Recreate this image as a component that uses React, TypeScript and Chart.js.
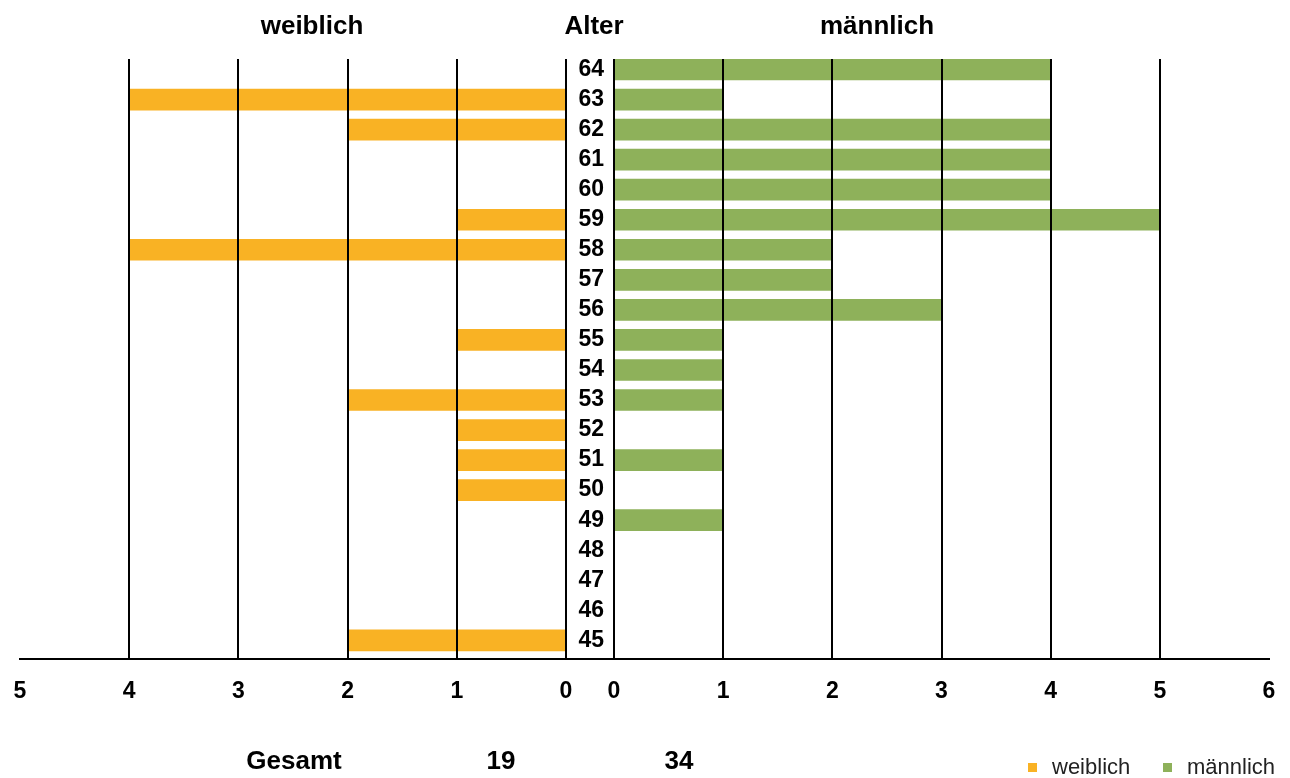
import { useEffect, useRef } from "react";
import { Chart, registerables } from "chart.js";

Chart.register(...registerables);

// Altersverteilung nach Geschlecht
const ages = [64, 63, 62, 61, 60, 59, 58, 57, 56, 55, 54, 53, 52, 51, 50, 49, 48, 47, 46, 45];
const weiblich = [0, 4, 2, 0, 0, 1, 4, 0, 0, 1, 0, 2, 1, 1, 1, 0, 0, 0, 0, 2];
const maennlich = [4, 1, 4, 4, 4, 5, 2, 2, 3, 1, 1, 1, 0, 1, 0, 1, 0, 0, 0, 0];
const weiblichTicks = [0, 1, 2, 3, 4, 5];
const maennlichTicks = [0, 1, 2, 3, 4, 5, 6];

const ORANGE = "#F9B224";
const GREEN = "#8EB15A";
const FONT = "'Liberation Sans', Arial, Helvetica, sans-serif";

const W = 1290;
const H = 778;
const PLOT_TOP = 59;
const PLOT_BOTTOM = 659;
const LEFT_CANVAS_W = 580;
const LEFT_PLOT_LEFT = 20;
const LEFT_PLOT_RIGHT = 566;
const RIGHT_CANVAS_X = 566;
const RIGHT_PLOT_RIGHT = 1269;
const AGE_GAP = 48;
const Y_MIN = 44.38;
const Y_MAX = 64.35;

const sum = (a: number[]) => a.reduce((s, v) => s + v, 0);

const tickFont = { size: 23, weight: "bold" as const, family: FONT };

function gridColor(hidden: number) {
  return (ctx: any) => (ctx.tick && ctx.tick.value === hidden ? "rgba(0,0,0,0)" : "#000");
}

function xScale(ticks: number[], max: number, reverse: boolean) {
  return {
    type: "linear" as const,
    position: "bottom" as const,
    reverse,
    min: 0,
    max,
    afterBuildTicks: (s: any) => {
      s.ticks = ticks.map((v) => ({ value: v }));
    },
    afterFit: (s: any) => {
      s.height = H - PLOT_BOTTOM;
      // the layout padding already leaves room for the end labels
      s.paddingLeft = 0;
      s.paddingRight = 0;
    },
    grid: { z: 1, color: gridColor(max), lineWidth: 2, drawTicks: false },
    border: { display: true, color: "#000", width: 2, z: 1 },
    ticks: { font: tickFont, color: "#000", padding: 19, maxRotation: 0, autoSkip: false },
  };
}

// draws the baseline across the gap holding the age labels
const gapBaseline = {
  id: "gapBaseline",
  afterDraw(chart: any) {
    const { ctx } = chart;
    const y = chart.scales.x.top;
    ctx.save();
    ctx.strokeStyle = "#000";
    ctx.lineWidth = 2;
    ctx.beginPath();
    ctx.moveTo(0, y);
    ctx.lineTo(chart.chartArea.left, y);
    ctx.stroke();
    ctx.restore();
  },
};

export default function App() {
  const leftRef = useRef<HTMLCanvasElement>(null);
  const rightRef = useRef<HTMLCanvasElement>(null);

  useEffect(() => {
    Chart.defaults.font.family = FONT;

    const left = new Chart(leftRef.current!, {
      type: "bar",
      data: {
        datasets: [
          {
            label: "weiblich",
            data: ages.map((a, i) => ({ x: weiblich[i], y: a })),
            backgroundColor: ORANGE,
            borderWidth: 0,
            barThickness: 21,
          },
        ],
      },
      options: {
        indexAxis: "y",
        responsive: false,
        animation: false,
        devicePixelRatio: 1,
        layout: {
          padding: { left: LEFT_PLOT_LEFT, right: LEFT_CANVAS_W - LEFT_PLOT_RIGHT, top: PLOT_TOP, bottom: 0 },
        },
        plugins: { legend: { display: false }, tooltip: { enabled: false } },
        scales: {
          x: xScale(weiblichTicks, 5, true),
          y: { type: "linear", min: Y_MIN, max: Y_MAX, offset: false, display: false },
        },
      },
    });

    const rightW = W - RIGHT_CANVAS_X;
    const right = new Chart(rightRef.current!, {
      type: "bar",
      data: {
        datasets: [
          {
            label: "männlich",
            data: ages.map((a, i) => ({ x: maennlich[i], y: a })),
            backgroundColor: GREEN,
            borderWidth: 0,
            barThickness: 21,
          },
        ],
      },
      options: {
        indexAxis: "y",
        responsive: false,
        animation: false,
        devicePixelRatio: 1,
        layout: {
          padding: { left: 0, right: rightW - (RIGHT_PLOT_RIGHT - RIGHT_CANVAS_X), top: PLOT_TOP, bottom: 0 },
        },
        plugins: { legend: { display: false }, tooltip: { enabled: false } },
        scales: {
          x: xScale(maennlichTicks, 6, false),
          y: {
            type: "linear",
            position: "left",
            min: Y_MIN,
            max: Y_MAX,
            offset: false,
            afterBuildTicks: (s: any) => {
              s.ticks = ages.map((v) => ({ value: v }));
            },
            afterFit: (s: any) => {
              s.width = AGE_GAP;
              s.paddingTop = 0;
              s.paddingBottom = 0;
            },
            grid: { display: false, drawTicks: false },
            border: { display: false },
            ticks: {
              font: tickFont,
              color: "#000",
              padding: 10,
              crossAlign: "near",
              autoSkip: false,
              callback: (v: any) => String(v),
            },
          },
        },
      },
      plugins: [gapBaseline],
    });

    return () => {
      left.destroy();
      right.destroy();
    };
  }, []);

  const label = (text: string, x: number, y: number): any => (
    <div
      style={{
        position: "absolute",
        left: x,
        top: y,
        transform: "translate(-50%, -50%)",
        font: `bold 26px ${FONT}`,
        color: "#000",
        whiteSpace: "nowrap",
        lineHeight: 1,
      }}
    >
      {text}
    </div>
  );

  const legendItem = (text: string, color: string, x: number) => (
    <div
      style={{
        position: "absolute",
        left: x,
        top: 756,
        display: "flex",
        alignItems: "center",
        font: `22px ${FONT}`,
        color: "#222",
        whiteSpace: "nowrap",
        lineHeight: 1,
      }}
    >
      <span style={{ display: "inline-block", width: 9, height: 9, background: color, marginRight: 15 }} />
      {text}
    </div>
  );

  return (
    <div
      style={{
        position: "fixed",
        left: 0,
        top: 0,
        width: W,
        height: H,
        background: "#fff",
        overflow: "hidden",
      }}
    >
      <canvas
        ref={leftRef}
        width={LEFT_CANVAS_W}
        height={H}
        style={{ position: "absolute", left: 0, top: 0, width: LEFT_CANVAS_W, height: H }}
      />
      <canvas
        ref={rightRef}
        width={W - RIGHT_CANVAS_X}
        height={H}
        style={{ position: "absolute", left: RIGHT_CANVAS_X, top: 0, width: W - RIGHT_CANVAS_X, height: H }}
      />
      {label("weiblich", 312, 25)}
      {label("Alter", 594, 25)}
      {label("männlich", 877, 25)}
      {label("Gesamt", 294, 760)}
      {label(String(sum(weiblich)), 501, 760)}
      {label(String(sum(maennlich)), 679, 760)}
      {legendItem("weiblich", ORANGE, 1028)}
      {legendItem("männlich", GREEN, 1163)}
    </div>
  );
}
